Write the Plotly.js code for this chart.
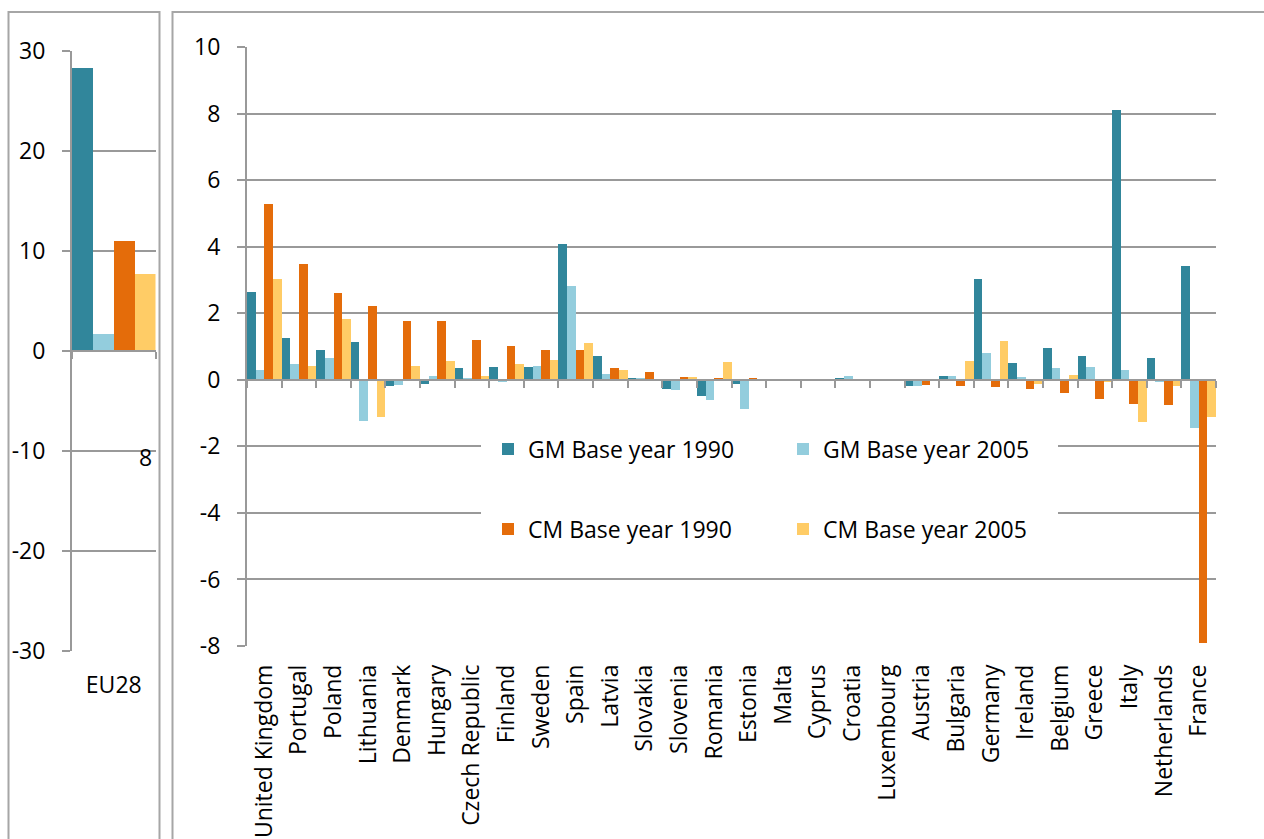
<!DOCTYPE html>
<html>
<head>
<meta charset="utf-8">
<script src="https://cdn.plot.ly/plotly-3.0.1.min.js"></script>
<style>html,body{margin:0;padding:0;background:#fff;}#chart{width:1264px;height:839px;}</style>
</head>
<body>
<div id="chart"></div>
<script>
// ---- data ----
const euLabel = ["EU28"];
const euGM1990 = [28.3];
const euGM2005 = [1.7];
const euCM1990 = [11.0];
const euCM2005 = [7.7];

const countries = ["United Kingdom","Portugal","Poland","Lithuania","Denmark","Hungary","Czech Republic","Finland","Sweden","Spain","Latvia","Slovakia","Slovenia","Romania","Estonia","Malta","Cyprus","Croatia","Luxembourg","Austria","Bulgaria","Germany","Ireland","Belgium","Greece","Italy","Netherlands","France"];
const gm1990 = [2.64,1.25,0.91,1.13,-0.19,-0.12,0.35,0.37,0.37,4.09,0.72,0.04,-0.28,-0.48,-0.14,0,0,0.06,0,-0.18,0.11,3.04,0.49,0.96,0.72,8.12,0.66,3.43];
const gm2005 = [0.29,0.46,0.65,-1.23,-0.17,0.11,0.05,-0.08,0.41,2.83,0.18,0.04,-0.30,-0.62,-0.88,0,0,0.10,0,-0.18,0.11,0.79,0.07,0.36,0.39,0.28,-0.08,-1.46];
const cm1990 = [5.29,3.49,2.62,2.22,1.76,1.76,1.20,1.01,0.91,0.89,0.34,0.23,0.09,0.06,0.04,0,0,0,0,-0.17,-0.18,-0.22,-0.27,-0.39,-0.57,-0.72,-0.76,-7.90];
const cm2005 = [3.04,0.41,1.82,-1.13,0.40,0.56,0.11,0.47,0.58,1.12,0.29,0,0.07,0.54,0.03,0,0,0,0,0,0.56,1.17,-0.12,0.14,-0.07,-1.28,-0.18,-1.11];

const yTicksLeft = [-30,-20,-10,0,10,20,30];
const yTicksRight = [-8,-6,-4,-2,0,2,4,6,8,10];

const seriesNames = ["GM Base year 1990","GM Base year 2005","CM Base year 1990","CM Base year 2005"];
const colors = ["#31869B","#93CDDD","#E46C0A","#FFCC66"];

// ---- geometry ----
const W = 1264, H = 839;
const px = v => v / W;
const py = v => (H - v) / H;
const yDom1 = [py(651), py(51)];
const yDom2 = [py(646), py(47)];
const yr1 = [-30, 30], yr2 = [-8, 10];
const zeroPos1 = yDom1[0] + (0 - yr1[0]) / (yr1[1] - yr1[0]) * (yDom1[1] - yDom1[0]);
const zeroPos2 = yDom2[0] + (0 - yr2[0]) / (yr2[1] - yr2[0]) * (yDom2[1] - yDom2[0]);

const gridC = "#999999";
const FONT = "Open Sans, Noto Sans, DejaVu Sans, sans-serif";

const euVals = [euGM1990, euGM2005, euCM1990, euCM2005];
const ctyVals = [gm1990, gm2005, cm1990, cm2005];

const traces = [];
euVals.forEach((v, i) => {
  traces.push({type: "bar", x: euLabel, y: v, name: seriesNames[i], marker: {color: colors[i]},
    xaxis: "x", yaxis: "y", showlegend: false, hoverinfo: "y"});
});
ctyVals.forEach((v, i) => {
  traces.push({type: "bar", x: countries, y: v, name: seriesNames[i], marker: {color: colors[i]},
    xaxis: "x2", yaxis: "y2", showlegend: true, legend: i < 2 ? "legend" : "legend2", hoverinfo: "x+y"});
});
// carriers for the zero-line tick axes (draw nothing)
traces.push({type: "scatter", mode: "none", x: euLabel, y: euGM1990, xaxis: "x3", yaxis: "y", showlegend: false, hoverinfo: "skip"});
traces.push({type: "scatter", mode: "none", x: countries, y: cm1990, xaxis: "x4", yaxis: "y2", showlegend: false, hoverinfo: "skip"});

const yCommon = {
  showgrid: true, gridcolor: gridC, gridwidth: 2, zeroline: false,
  showline: true, linecolor: gridC, linewidth: 2,
  ticks: "outside", ticklen: 8, tickwidth: 2, tickcolor: gridC,
  tickfont: {size: 23, color: "#000"}, ticklabelstandoff: 12, fixedrange: true,
  tickmode: "array"
};
const xLab = {type: "category", showgrid: false, zeroline: false, showline: false, ticks: "",
  tickfont: {size: 23, color: "#000"}, fixedrange: true};
const xTicks = {type: "category", showgrid: false, zeroline: false, showline: true, linecolor: gridC, linewidth: 2,
  ticks: "outside", tickson: "boundaries", ticklen: 7, tickwidth: 2, tickcolor: gridC,
  showticklabels: false, anchor: "free", fixedrange: true};

const layout = {
  width: W, height: H,
  margin: {l: 0, r: 0, t: 0, b: 0, pad: 0},
  paper_bgcolor: "#fff", plot_bgcolor: "rgba(0,0,0,0)",
  font: {family: FONT, size: 23, color: "#000"},
  barmode: "group", bargap: 0, bargroupgap: 0,
  xaxis: Object.assign({}, xLab, {domain: [px(72), px(155.5)], anchor: "y", range: [-0.5, 0.5], ticklabelstandoff: 18}),
  yaxis: Object.assign({}, yCommon, {domain: yDom1, range: yr1, anchor: "x",
    tickvals: yTicksLeft, ticktext: yTicksLeft.map(v => String(v))}),
  xaxis3: Object.assign({}, xTicks, {overlaying: "x", position: zeroPos1, range: [-0.5, 0.5]}),
  xaxis2: Object.assign({}, xLab, {domain: [px(247), px(1216)], anchor: "y2", tickangle: -90,
    categoryorder: "array", categoryarray: countries, range: [-0.5, countries.length - 0.5], ticklabelstandoff: 13}),
  yaxis2: Object.assign({}, yCommon, {domain: yDom2, range: yr2, anchor: "x2",
    tickvals: yTicksRight, ticktext: yTicksRight.map(v => String(v))}),
  xaxis4: Object.assign({}, xTicks, {overlaying: "x2", position: zeroPos2,
    categoryorder: "array", categoryarray: countries, range: [-0.5, countries.length - 0.5]}),
  legend: {orientation: "h", x: px(488), xanchor: "left", y: py(449), yanchor: "middle",
    bgcolor: "rgba(0,0,0,0)", borderwidth: 0, font: {size: 23, color: "#000"},
    entrywidth: 250, entrywidthmode: "pixels", itemclick: false, itemdoubleclick: false},
  legend2: {orientation: "h", x: px(488), xanchor: "left", y: py(529), yanchor: "middle",
    bgcolor: "rgba(0,0,0,0)", borderwidth: 0, font: {size: 23, color: "#000"},
    entrywidth: 250, entrywidthmode: "pixels", itemclick: false, itemdoubleclick: false},
  shapes: [
    {type: "rect", xref: "paper", yref: "paper", x0: px(8.5), x1: px(159.5), y0: -0.05, y1: py(12),
      line: {color: "#a6a6a6", width: 2}, fillcolor: "rgba(0,0,0,0)", layer: "above"},
    {type: "rect", xref: "paper", yref: "paper", x0: px(172.5), x1: 1.05, y0: -0.05, y1: py(12),
      line: {color: "#a6a6a6", width: 2}, fillcolor: "rgba(0,0,0,0)", layer: "above"},
    {type: "rect", xref: "paper", yref: "paper", x0: px(481), x1: px(1058), y0: py(560), y1: py(418),
      line: {width: 0}, fillcolor: "#fff", layer: "above"}
  ],
  annotations: [
    {xref: "paper", yref: "paper", x: px(145), y: py(457), text: "8", showarrow: false,
      font: {size: 23, color: "#000"}, xanchor: "center", yanchor: "middle"}
  ]
};

Plotly.newPlot("chart", traces, layout, {displayModeBar: false, staticPlot: true});
</script>
</body>
</html>
